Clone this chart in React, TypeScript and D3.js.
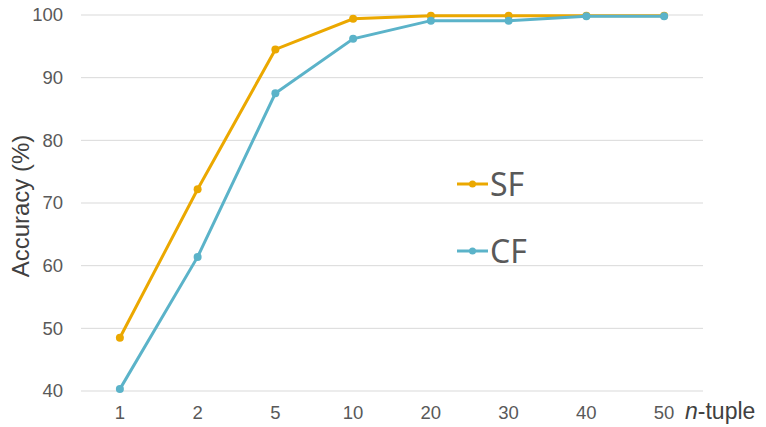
import React from "react";
import * as d3 from "d3";

const categories = ["1", "2", "5", "10", "20", "30", "40", "50"];
const sfValues = [48.5, 72.2, 94.5, 99.4, 99.9, 99.9, 99.9, 99.9];
const cfValues = [40.3, 61.4, 87.5, 96.2, 99.1, 99.1, 99.8, 99.8];
const yTicks = [40, 50, 60, 70, 80, 90, 100];
const seriesNames = ["SF", "CF"];
const seriesColors = ["#EBA800", "#5BB3C9"];

const W = 766;
const H = 427;
const left = 81;
const right = 703;
const top = 15;
const bottom = 391;

export default function App() {
  const x = d3.scaleBand<string>().domain(categories).range([left, right]);
  const y = d3.scaleLinear().domain([40, 100]).range([bottom, top]);
  const line = d3
    .line<number>()
    .x((_, i) => (x(categories[i]) as number) + x.bandwidth() / 2)
    .y((d) => y(d));
  const series = [sfValues, cfValues];
  const legendY = [184, 251];
  const tickFont = "'Liberation Sans', Arial, sans-serif";
  return (
    <svg
      width={W}
      height={H}
      style={{ position: "absolute", left: 0, top: 0, background: "#fff" }}
    >
      {yTicks.map((t) => (
        <g key={t}>
          <line x1={left} x2={right} y1={y(t)} y2={y(t)} stroke="#D9D9D9" strokeWidth={1} />
          <text
            x={63}
            y={y(t)}
            dy="0.35em"
            textAnchor="end"
            fontFamily={tickFont}
            fontSize={18.5}
            fill="#595959"
          >
            {t}
          </text>
        </g>
      ))}
      {categories.map((c) => (
        <text
          key={c}
          x={(x(c) as number) + x.bandwidth() / 2}
          y={419}
          textAnchor="middle"
          fontFamily={tickFont}
          fontSize={18.5}
          fill="#595959"
        >
          {c}
        </text>
      ))}
      <text x={685} y={419} fontFamily={tickFont} fontSize={23} fill="#404040">
        <tspan fontStyle="italic">n</tspan>-tuple
      </text>
      <text
        transform={`translate(29,206) rotate(-90)`}
        textAnchor="middle"
        fontFamily={tickFont}
        fontSize={24}
        fill="#404040"
      >
        Accuracy (%)
      </text>
      {series.map((vals, si) => (
        <g key={si}>
          <path d={line(vals) || ""} fill="none" stroke={seriesColors[si]} strokeWidth={3} />
          {vals.map((v, i) => (
            <circle
              key={i}
              cx={(x(categories[i]) as number) + x.bandwidth() / 2}
              cy={y(v)}
              r={4}
              fill={seriesColors[si]}
            />
          ))}
        </g>
      ))}
      {seriesNames.map((n, si) => (
        <g key={n}>
          <line
            x1={457}
            x2={488}
            y1={legendY[si]}
            y2={legendY[si]}
            stroke={seriesColors[si]}
            strokeWidth={3}
          />
          <circle cx={472.5} cy={legendY[si]} r={3.5} fill={seriesColors[si]} />
          <text
            x={490}
            y={legendY[si]}
            dy="0.36em"
            fontFamily="'Noto Sans', 'Open Sans', sans-serif"
            fontSize={32}
            fill="#595959"
          >
            {n}
          </text>
        </g>
      ))}
    </svg>
  );
}
